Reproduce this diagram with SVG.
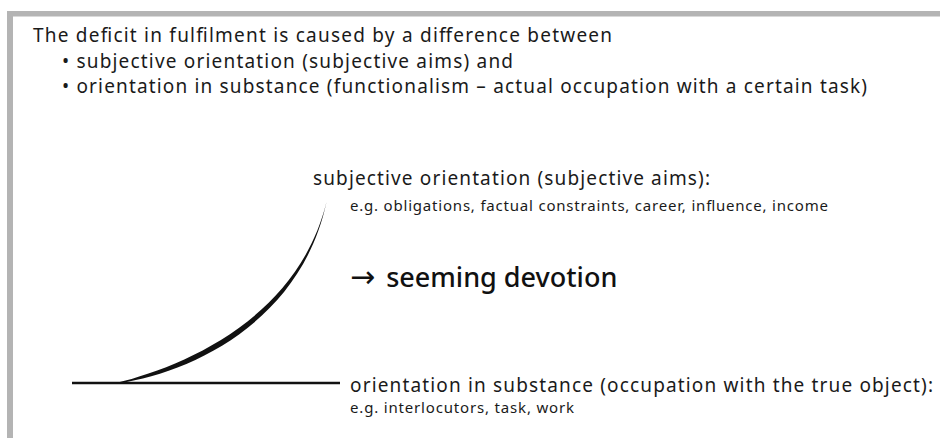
<svg xmlns="http://www.w3.org/2000/svg" width="940" height="438" viewBox="0 0 940 438">
  <style>
    .t { font-family: "Noto Sans", "Open Sans", sans-serif; fill: #1a1a1a; }
    .main { font-size: 19px; }
    .small { font-size: 15px; }
    .big { font-size: 27px; font-weight: 500; fill: #111; }
    .arr { font-family: "DejaVu Sans", sans-serif; font-size: 30px; font-weight: normal; }
    .line { stroke: #111; stroke-width: 2.6; fill: none; }
    .frame { fill: #b4b4b4; }
  </style>
  <rect width="940" height="438" fill="#ffffff"/>
  <g id="frame">
    <rect class="frame" x="7" y="11" width="933" height="5.5"/>
    <rect class="frame" x="7" y="11" width="6" height="427"/>
  </g>
  <g id="intro">
    <text class="t main" x="33" y="42" textLength="579" lengthAdjust="spacing">The deficit in fulfilment is caused by a difference between</text>
    <text class="t main" x="62" y="67.5" textLength="451" lengthAdjust="spacing">• subjective orientation (subjective aims) and</text>
    <text class="t main" x="62" y="93" textLength="805" lengthAdjust="spacing">• orientation in substance (functionalism – actual occupation with a certain task)</text>
  </g>
  <g id="subjective">
    <text class="t main" x="313" y="185" textLength="397" lengthAdjust="spacing">subjective orientation (subjective aims):</text>
    <text class="t small" x="350" y="211" textLength="478" lengthAdjust="spacing">e.g. obligations, factual constraints, career, influence, income</text>
  </g>
  <g id="devotion">
    <text class="t big" x="350" y="287"><tspan class="arr">→</tspan><tspan dx="4"> seeming devotion</tspan></text>
  </g>
  <g id="substance">
    <text class="t main" x="350" y="392" textLength="583" lengthAdjust="spacing">orientation in substance (occupation with the true object):</text>
    <text class="t small" x="350" y="413" textLength="224" lengthAdjust="spacing">e.g. interlocutors, task, work</text>
  </g>
  <g id="connectors">
    <line class="line" x1="72" y1="383" x2="340" y2="383"/>
    <path d="M116,383 C185,366 298,318 326.5,202 C301,322 190,373 119,383 Z" fill="#111"/>
  </g>
</svg>
